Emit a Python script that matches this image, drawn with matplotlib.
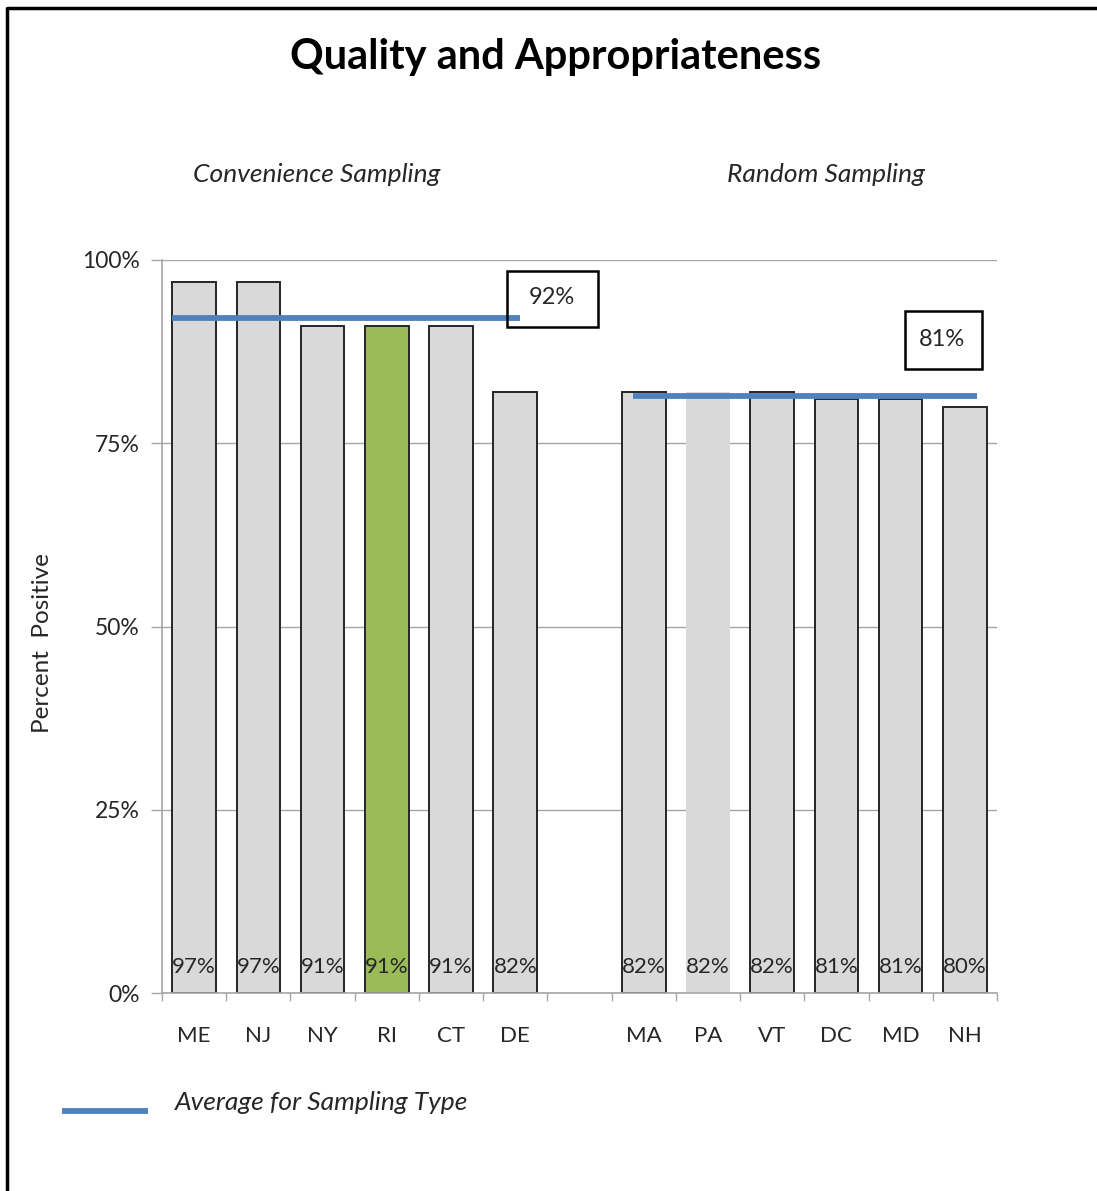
import matplotlib.pyplot as plt
from matplotlib.lines import Line2D
from matplotlib.patches import Rectangle
from matplotlib.ticker import FixedLocator, PercentFormatter

plt.rcParams["font.family"] = ["Lato", "DejaVu Sans"]

BLUE = "#4F81BD"
GRAY = "#D9D9D9"
GREEN = "#9BBB59"
AXIS = "#A6A6A6"

# data
conv_states = ["ME", "NJ", "NY", "RI", "CT", "DE"]
conv_values = [97, 97, 91, 91, 91, 82]
rand_states = ["MA", "PA", "VT", "DC", "MD", "NH"]
rand_values = [82, 82, 82, 81, 81, 80]
averages = [92.1, 81.4]
average_labels = ["92%", "81%"]
highlight = "RI"

W, H = 1097, 1191
fig = plt.figure(figsize=(W / 100, H / 100), dpi=100)
ax = fig.add_axes([162 / W, 1 - 993 / H, 835 / W, 733 / H])

states = conv_states + rand_states
values = conv_values + rand_values
pos = list(range(6)) + list(range(7, 13))

for p, s, v in zip(pos, states, values):
    face = GREEN if s == highlight else GRAY
    edge = "none" if s == "PA" else "#262626"
    ax.bar(p, v, width=0.68, color=face, edgecolor=edge, linewidth=1.4, zorder=2)
    ax.text(p, 3.6, f"{v}%", ha="center", va="center", fontsize=16,
            color="#262626", zorder=3)

# average lines
spans = [(-0.34, 5.07), (6.83, 12.19)]
for (x0, x1), a in zip(spans, averages):
    ax.plot([x0, x1], [a, a], color=BLUE, linewidth=4.2, zorder=4,
            solid_capstyle="butt")

ax.set_xlim(-0.5, 12.5)
ax.set_ylim(0, 100)
ax.yaxis.set_major_locator(FixedLocator([0, 25, 50, 75, 100]))
ax.yaxis.set_major_formatter(PercentFormatter(decimals=0))
ax.grid(axis="y", color=AXIS, linewidth=1, zorder=0)
ax.set_xticks(pos)
ax.set_xticklabels(states)
ax.xaxis.set_minor_locator(FixedLocator([i - 0.5 for i in range(14)]))
ax.tick_params(axis="x", which="major", length=0, pad=24, labelsize=16,
               labelcolor="#262626")
ax.tick_params(axis="x", which="minor", length=6, color=AXIS, width=1)
ax.tick_params(axis="y", length=8, color=AXIS, width=1, pad=8,
               labelsize=16.5, labelcolor="#262626")
for side in ["top", "right"]:
    ax.spines[side].set_visible(False)
for side in ["left", "bottom"]:
    ax.spines[side].set_color(AXIS)
    ax.spines[side].set_linewidth(1.2)

# average value boxes (pixel layout)
boxes = [(507, 271, 91, 56), (905, 311, 77, 58)]
for (bx, by, bw, bh), lab in zip(boxes, average_labels):
    fig.patches.append(Rectangle((bx / W, 1 - (by + bh) / H), bw / W, bh / H,
                                 transform=fig.transFigure, fill=False,
                                 edgecolor="black", linewidth=1.8))
    fig.text((bx + bw / 2 - 1) / W, 1 - (by + bh / 2 - 1) / H, lab,
             ha="center", va="center", fontsize=17, color="#262626")

fig.text(556 / W, 1 - 57 / H, "Quality and Appropriateness", ha="center",
         va="center", fontsize=30, fontweight="bold")
fig.text(317 / W, 1 - 175 / H, "Convenience Sampling", ha="center",
         va="center", fontsize=19, style="italic", color="#262626")
fig.text(826 / W, 1 - 175 / H, "Random Sampling", ha="center",
         va="center", fontsize=19, style="italic", color="#262626")
fig.text(43 / W, 1 - 643 / H, "Percent  Positive", ha="center", va="center",
         rotation=90, fontsize=17.5, color="#262626")

# legend
fig.lines.append(Line2D([62 / W, 148 / W], [1 - 1111 / H] * 2,
                        transform=fig.transFigure, color=BLUE, linewidth=4.2,
                        solid_capstyle="butt"))
fig.text(175 / W, 1 - 1103 / H, "Average for Sampling Type", ha="left",
         va="center", fontsize=19, style="italic", color="#262626")

# frame (top and left)
fig.lines.append(Line2D([7 / W, 7 / W, 1], [0, 1 - 8 / H, 1 - 8 / H],
                        transform=fig.transFigure, color="black", linewidth=2.5))

fig.savefig("out.png", dpi=100)
